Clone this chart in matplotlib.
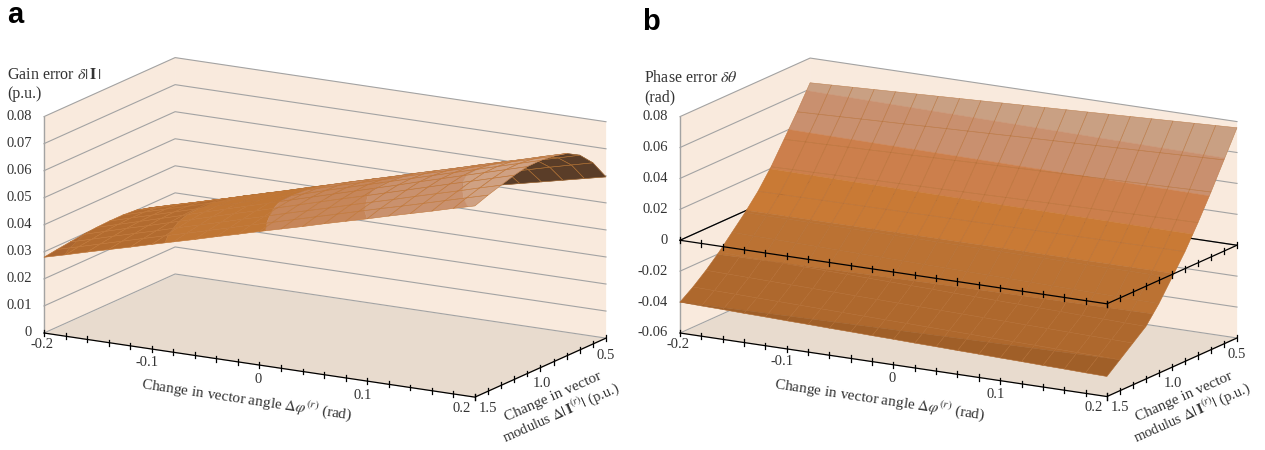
import numpy as np
import matplotlib
matplotlib.use("Agg")
import matplotlib.pyplot as plt
from mpl_toolkits.mplot3d import proj3d
from mpl_toolkits.mplot3d.art3d import Poly3DCollection, Line3DCollection

W, H = 1265, 450

angle = [-0.20, -0.18, -0.16, -0.14, -0.12, -0.10, -0.08, -0.06, -0.04, -0.02, 0.00,
         0.02, 0.04, 0.06, 0.08, 0.10, 0.12, 0.14, 0.16, 0.18, 0.20]
modulus = [1.5, 1.4, 1.3, 1.2, 1.1, 1.0, 0.9, 0.8, 0.7, 0.6, 0.5]

angle_ticks = [-0.2, -0.1, 0.0, 0.1, 0.2]
angle_labels = ["-0.2", "-0.1", "0", "0.1", "0.2"]
modulus_ticks = [0.5, 1.0, 1.5]
modulus_labels = ["0.5", "1.0", "1.5"]

gain_ticks = [0, 0.01, 0.02, 0.03, 0.04, 0.05, 0.06, 0.07, 0.08]
gain_labels = ["0", "0.01", "0.02", "0.03", "0.04", "0.05", "0.06", "0.07", "0.08"]
phase_ticks = [-0.06, -0.04, -0.02, 0, 0.02, 0.04, 0.06, 0.08]
phase_labels = ["-0.06", "-0.04", "-0.02", "0", "0.02", "0.04", "0.06", "0.08"]

# one row per modulus value, one column per angle value
gain_error = [
    [.0280, .0301, .0323, .0344, .0365, .0387, .0408, .0429, .0451, .0472, .0494, .0515, .0536, .0558, .0579, .0600, .0622, .0643, .0664, .0686, .0707],
    [.0287, .0309, .0331, .0353, .0375, .0397, .0418, .0440, .0462, .0484, .0506, .0528, .0550, .0572, .0594, .0616, .0637, .0659, .0681, .0703, .0725],
    [.0293, .0315, .0338, .0360, .0382, .0405, .0427, .0449, .0472, .0494, .0517, .0539, .0561, .0584, .0606, .0628, .0651, .0673, .0695, .0718, .0740],
    [.0299, .0322, .0345, .0367, .0390, .0413, .0436, .0459, .0481, .0504, .0527, .0550, .0573, .0595, .0618, .0641, .0664, .0687, .0709, .0732, .0755],
    [.0303, .0326, .0349, .0372, .0395, .0419, .0442, .0465, .0488, .0511, .0534, .0557, .0580, .0603, .0626, .0650, .0673, .0696, .0719, .0742, .0765],
    [.0305, .0328, .0351, .0374, .0397, .0420, .0443, .0466, .0489, .0512, .0536, .0559, .0582, .0605, .0628, .0651, .0674, .0697, .0720, .0743, .0766],
    [.0305, .0328, .0351, .0373, .0396, .0419, .0442, .0464, .0487, .0510, .0533, .0555, .0578, .0601, .0624, .0646, .0669, .0692, .0715, .0737, .0760],
    [.0301, .0323, .0346, .0368, .0390, .0413, .0435, .0457, .0480, .0502, .0525, .0547, .0569, .0592, .0614, .0636, .0659, .0681, .0703, .0726, .0748],
    [.0288, .0310, .0331, .0353, .0374, .0396, .0418, .0439, .0461, .0482, .0504, .0526, .0547, .0569, .0590, .0612, .0634, .0655, .0677, .0698, .0720],
    [.0265, .0285, .0306, .0326, .0346, .0366, .0387, .0407, .0427, .0447, .0468, .0488, .0508, .0528, .0549, .0569, .0589, .0609, .0630, .0650, .0670],
    [.0236, .0254, .0272, .0290, .0308, .0326, .0344, .0362, .0380, .0398, .0416, .0434, .0452, .0470, .0488, .0506, .0524, .0542, .0560, .0578, .0596],
]
phase_error = [
    [-.0400, -.0404, -.0407, -.0411, -.0414, -.0418, -.0421, -.0425, -.0428, -.0432, -.0435, -.0439, -.0442, -.0446, -.0449, -.0453, -.0456, -.0460, -.0463, -.0467, -.0470],
    [-.0340, -.0343, -.0346, -.0349, -.0352, -.0355, -.0358, -.0361, -.0364, -.0367, -.0370, -.0373, -.0376, -.0379, -.0382, -.0385, -.0388, -.0391, -.0394, -.0397, -.0400],
    [-.0270, -.0273, -.0276, -.0279, -.0282, -.0285, -.0288, -.0291, -.0294, -.0297, -.0300, -.0303, -.0306, -.0309, -.0312, -.0315, -.0318, -.0321, -.0324, -.0327, -.0330],
    [-.0190, -.0194, -.0197, -.0201, -.0204, -.0208, -.0211, -.0215, -.0218, -.0222, -.0225, -.0229, -.0232, -.0236, -.0239, -.0243, -.0246, -.0250, -.0253, -.0257, -.0260],
    [-.0100, -.0103, -.0105, -.0108, -.0110, -.0113, -.0115, -.0118, -.0120, -.0123, -.0125, -.0128, -.0130, -.0133, -.0135, -.0138, -.0140, -.0143, -.0145, -.0148, -.0150],
    [-.0010, -.0011, -.0011, -.0012, -.0012, -.0013, -.0013, -.0014, -.0014, -.0015, -.0015, -.0016, -.0016, -.0017, -.0017, -.0018, -.0018, -.0019, -.0019, -.0020, -.0020],
    [.0090, .0091, .0092, .0093, .0094, .0095, .0096, .0097, .0098, .0099, .0100, .0101, .0102, .0103, .0104, .0105, .0106, .0107, .0108, .0109, .0110],
    [.0210, .0213, .0215, .0218, .0220, .0223, .0225, .0228, .0230, .0233, .0235, .0238, .0240, .0243, .0245, .0248, .0250, .0253, .0255, .0258, .0260],
    [.0350, .0354, .0357, .0361, .0364, .0368, .0371, .0375, .0378, .0382, .0385, .0389, .0392, .0396, .0399, .0403, .0406, .0410, .0413, .0417, .0420],
    [.0490, .0495, .0500, .0505, .0510, .0515, .0520, .0525, .0530, .0535, .0540, .0545, .0550, .0555, .0560, .0565, .0570, .0575, .0580, .0585, .0590],
    [.0640, .0646, .0652, .0658, .0664, .0670, .0676, .0682, .0688, .0694, .0700, .0706, .0712, .0718, .0724, .0730, .0736, .0742, .0748, .0754, .0760],
]

gain_bands = [0.0, 0.03, 0.04, 0.05, 0.06, 0.07, 0.08]
gain_colors = ["#ab6630", "#b26b2f", "#c07634", "#c6865a", "#c9916e", "#cfa183"]
phase_bands = [-0.06, -0.04, -0.02, 0.0, 0.02, 0.04, 0.06, 0.08]
phase_colors = ["#a05f28", "#ae682d", "#bb7233", "#c97a35", "#cc7f4c", "#c9906f", "#c9a083"]

plt.rcParams["font.family"] = ["Liberation Serif", "DejaVu Serif"]
plt.rcParams["mathtext.fontset"] = "stix"

WALL = "#f9eadd"
FLOOR = "#e8dbce"
GRID = "#a3a3a3"
TEXT = "#333333"
UNDER = "#5a3d28"


def to_px(ax, x, y, z):
    px, py, _ = proj3d.proj_transform(x, y, z, ax.get_proj())
    d = ax.transData.transform((px, py))
    return d[0], H - d[1]


def fit_axes(ax, corner0, target0, corner1, target1):
    # move and scale the square 3d axes so two box corners land on the wanted pixels
    for i in range(3):
        ax.apply_aspect()
        a = to_px(ax, *corner0)
        b = to_px(ax, *corner1)
        k = (target1[0] - target0[0]) / (b[0] - a[0])
        pos = ax.get_position()
        cx = pos.x0 + pos.width / 2 + (target0[0] - a[0]) / W
        cy = pos.y0 + pos.height / 2 - (target0[1] - a[1]) / H
        w, h = pos.width * k, pos.height * k
        ax.set_position([cx - w / 2, cy - h / 2, w, h])


def clip_z(poly, level, keep_above):
    out = []
    for i in range(len(poly)):
        p, q = poly[i], poly[(i + 1) % len(poly)]
        p_in = p[2] >= level if keep_above else p[2] <= level
        q_in = q[2] >= level if keep_above else q[2] <= level
        if p_in:
            out.append(p)
        if p_in != q_in:
            t = (level - p[2]) / (q[2] - p[2])
            out.append((p[0] + t * (q[0] - p[0]), p[1] + t * (q[1] - p[1]), level))
    return out


def signed_area(ax, poly):
    M = ax.get_proj()
    xs, ys, _ = proj3d.proj_transform(*np.array(poly).T, M)
    return 0.5 * np.sum(xs * np.roll(ys, -1) - np.roll(xs, -1) * ys)


def draw_surface(ax, z_table, bands, colors, mesh_color, mesh_alpha):
    top_polys, top_cols, top_mesh = [], [], []
    under_polys, under_mesh = [], []
    flat = [(angle[0], modulus[0], 0), (angle[1], modulus[0], 0), (angle[1], modulus[1], 0), (angle[0], modulus[1], 0)]
    flat_sign = np.sign(signed_area(ax, flat))
    for r in range(len(modulus) - 1):
        for c in range(len(angle) - 1):
            cell = [(angle[c], modulus[r], z_table[r][c]),
                    (angle[c + 1], modulus[r], z_table[r][c + 1]),
                    (angle[c + 1], modulus[r + 1], z_table[r + 1][c + 1]),
                    (angle[c], modulus[r + 1], z_table[r + 1][c])]
            edges = [[cell[i], cell[(i + 1) % 4]] for i in range(4)]
            if np.sign(signed_area(ax, cell)) != flat_sign:
                under_polys.append(cell)
                under_mesh.extend(edges)
                continue
            top_mesh.extend(edges)
            for b in range(len(colors)):
                part = clip_z(cell, bands[b], True)
                if part:
                    part = clip_z(part, bands[b + 1], False)
                if len(part) >= 3:
                    top_polys.append(part)
                    top_cols.append(colors[b])
    if under_polys:
        ax.add_collection3d(Poly3DCollection(under_polys, facecolors=UNDER, edgecolors=UNDER, linewidths=0.3, zorder=3))
        ax.add_collection3d(Line3DCollection(under_mesh, colors="#a86c32", linewidths=0.4, zorder=4))
    ax.add_collection3d(Poly3DCollection(top_polys, facecolors=top_cols, edgecolors=top_cols, linewidths=0.3, zorder=5))
    ax.add_collection3d(Line3DCollection(top_mesh, colors=mesh_color, linewidths=0.4, alpha=mesh_alpha, zorder=6))


def put_label(ax, x, y, z, text, dx, dy, ha="center"):
    M = ax.get_proj()
    px, py, _ = proj3d.proj_transform(x, y, z, M)
    ax.annotate(text, xy=(px, py), xytext=(dx, -dy), textcoords="offset pixels", ha=ha, va="center",
                fontsize=10.5, color=TEXT, annotation_clip=False, zorder=10)


def draw_panel(box, target0, target1, z_ticks, z_labels, z_table, bands, colors, mesh_color, mesh_alpha, tick_h):
    ax = fig.add_axes([0.1, 0.1, 0.46, 0.46 * W / H], projection="3d", proj_type="ortho", computed_zorder=False)
    ax.set_facecolor("none")
    ax.set_axis_off()
    ax.set_box_aspect(box)
    ax.view_init(elev=15, azim=-60.1)
    x0, x1 = angle[0], angle[-1]
    yf, yb = modulus[0], modulus[-1]
    z0, z1 = z_ticks[0], z_ticks[-1]
    ax.set_xlim(x0, x1)
    ax.set_ylim(yf, yb)
    ax.set_zlim(z0, z1)
    fit_axes(ax, (x0, yf, z0), target0, (x1, yb, z1), target1)

    # walls and floor
    walls = [[(x0, yf, z0), (x0, yb, z0), (x0, yb, z1), (x0, yf, z1)],
             [(x0, yb, z0), (x1, yb, z0), (x1, yb, z1), (x0, yb, z1)]]
    ax.add_collection3d(Poly3DCollection(walls, facecolors=WALL, edgecolors=WALL, linewidths=0.2, zorder=1))
    floor = [[(x0, yf, z0), (x1, yf, z0), (x1, yb, z0), (x0, yb, z0)]]
    ax.add_collection3d(Poly3DCollection(floor, facecolors=FLOOR, edgecolors=FLOOR, linewidths=0.2, zorder=1.2))
    for z in z_ticks:
        ax.plot([x0, x0, x1], [yf, yb, yb], [z, z, z], color=GRID, lw=0.8, zorder=2)
        put_label(ax, x0, yf, z, z_labels[z_ticks.index(z)], -12, 0, ha="right")
    ax.plot([x0, x0], [yf, yf], [z0, z1], color=GRID, lw=1.0, zorder=2)

    # z = 0 frame, when the floor sits below zero
    if z0 < 0:
        ax.plot([x1, x0, x0], [yb, yb, yf], [0, 0, 0], color="black", lw=0.9, zorder=2.5)

    draw_surface(ax, z_table, bands, colors, mesh_color, mesh_alpha)

    levels = [z0, 0] if z0 < 0 else [z0]
    for lev in levels:
        ax.plot([x0, x1, x1], [yf, yf, yb], [lev, lev, lev], color="black", lw=0.9, zorder=8)
        for a in angle:
            ax.plot([a, a], [yf, yf], [lev - tick_h, lev + tick_h], color="black", lw=0.9, zorder=8)
        for m in modulus:
            ax.plot([x1, x1], [m, m], [lev - tick_h, lev + tick_h], color="black", lw=0.9, zorder=8)

    shifts = [(-2, 12), (-5, 13), (-1, 14), (-4, 14), (-13, 11)]
    for i in range(len(angle_ticks)):
        put_label(ax, angle_ticks[i], yf, z0, angle_labels[i], shifts[i][0], shifts[i][1])
    shifts = [(0, 17), (1, 16), (13, 11)]
    for i in range(len(modulus_ticks)):
        put_label(ax, x1, modulus_ticks[i], z0, modulus_labels[i], shifts[i][0], shifts[i][1])


def px_text(x, y, s, **kw):
    fig.text(x / W, 1 - y / H, s, color=TEXT, **kw)


fig = plt.figure(figsize=(W / 100, H / 100), dpi=100)

draw_panel((497, 263, 224), (44, 333), (606, 122), gain_ticks, gain_labels, gain_error,
           gain_bands, gain_colors, "#c27a3c", 0.8, 0.0011)
draw_panel((492.4, 261, 224), (680, 333), (1237, 122), phase_ticks, phase_labels, phase_error,
           phase_bands, phase_colors, "#b87238", 0.55, 0.002)

fig.text(7 / W, 1 - 23 / H, "a", fontsize=21, fontweight="bold", family="Liberation Sans", color="black")
fig.text(642 / W, 1 - 30 / H, "b", fontsize=21, fontweight="bold", family="Liberation Sans", color="black")

px_text(7, 75, r"Gain error $\delta|\,\mathbf{I}\,|$", fontsize=11.5, va="center")
px_text(7, 94, "(p.u.)", fontsize=11.5, va="center")
px_text(644, 78, r"Phase error $\delta\theta$", fontsize=11.5, va="center")
px_text(644, 97, "(rad)", fontsize=11.5, va="center")

x_title = r"Change in vector angle $\Delta\varphi^{(r)}$ (rad)"
y_title1 = "Change in vector"
y_title2 = r"modulus $\Delta|\,\mathbf{I}^{(r)}|$ (p.u.)"
for cx, cx1, cx2 in [(247, 553, 561), (880, 1184, 1192)]:
    px_text(cx, 399, x_title, fontsize=11, rotation=-8.5, ha="center", va="center", rotation_mode="anchor")
    px_text(cx1, 397, y_title1, fontsize=11, rotation=24, ha="center", va="center", rotation_mode="anchor")
    px_text(cx2, 412, y_title2, fontsize=10.5, rotation=24, ha="center", va="center", rotation_mode="anchor")

fig.savefig("out.png", dpi=100)
